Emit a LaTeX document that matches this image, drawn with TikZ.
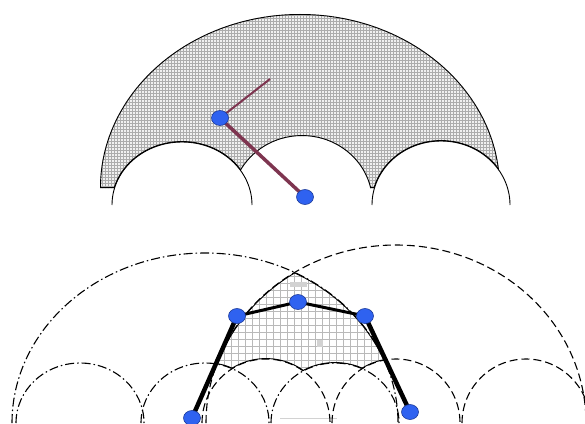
\documentclass[tikz,border=0pt]{standalone}
\usetikzlibrary{shapes.geometric}
\definecolor{jointblue}{HTML}{2F62F0}
\definecolor{jointedge}{HTML}{1E3C9A}
\definecolor{linkred}{HTML}{7E3550}
\pgfdeclarelayer{front}
\pgfsetlayers{main,front}

\begin{document}
\begin{tikzpicture}[
  x=1bp, y=1bp,
  joint/.style={ellipse, draw=jointedge, fill=jointblue, line width=0.6bp,
                minimum width=17bp, minimum height=15bp, inner sep=0pt},
  link/.style={linkred, line width=3.5bp},
  thinlink/.style={linkred, line width=2bp},
  bar/.style={black, line width=4.5bp},
  barthin/.style={black, line width=3bp},
  edge/.style={black, line width=0.9bp},
  rim/.style={black, line width=1.8bp},
  dashdot/.style={black, line width=1.1bp, dash pattern=on 9bp off 3bp on 1.5bp off 3bp},
  dashline/.style={black, line width=1.1bp, dash pattern=on 8bp off 4bp},
  finehatch/.style={gray!65, line width=0.5bp},
  widehatch/.style={gray!55, line width=0.6bp},
  revclip/.style={insert path={(-100,600) -- (700,600) -- (700,-100) -- (-100,-100) -- cycle}}
]
\useasboundingbox (0,0) rectangle (585,423);

% --- upper: reach of the two-link arm ---
\begin{scope}
  \clip (100,235) arc[start angle=180, end angle=0, x radius=200, y radius=174] -- cycle;
  \clip[revclip] (182,218) ellipse[x radius=70, y radius=63];
  \clip[revclip] (302,220) ellipse[x radius=70, y radius=67];
  \clip[revclip] (441,218) ellipse[x radius=69, y radius=64];
  \fill[gray!12] (95,230) rectangle (505,415);
  \draw[finehatch, step=3bp] (95,230) grid (505,415);
  \draw[rim] (100,235) arc[start angle=180, end angle=0, x radius=200, y radius=174] -- cycle;
  \draw[rim] (182,218) ellipse[x radius=70, y radius=63];
  \draw[rim] (302,220) ellipse[x radius=70, y radius=67];
  \draw[rim] (441,218) ellipse[x radius=69, y radius=64];
\end{scope}
\draw[edge] (112,218) arc[start angle=180, end angle=0, x radius=70, y radius=63];
\draw[edge] (372,218) arc[start angle=180, end angle=0, x radius=69, y radius=64];

\begin{pgfonlayer}{front}
  \node[joint] (elbow) at (220,305) {};
  \node[joint] (root)  at (305,226) {};
\end{pgfonlayer}
\coordinate (tip) at (270,344);
\draw[link] (root.center) -- (elbow.center);
\draw[thinlink] (elbow.center) -- (tip);

% --- lower: two bases, common region ---
\begin{scope}
  \clip (205,0) ellipse[x radius=193, y radius=170];
  \clip (396,0) ellipse[x radius=190, y radius=178];
  \clip[revclip] (80,0)  ellipse[x radius=64, y radius=60];
  \clip[revclip] (205,0) ellipse[x radius=64, y radius=60];
  \clip[revclip] (335,0) ellipse[x radius=64, y radius=60];
  \clip[revclip] (266,0) ellipse[x radius=64, y radius=64];
  \clip[revclip] (396,0) ellipse[x radius=64, y radius=64];
  \clip[revclip] (526,0) ellipse[x radius=64, y radius=64];
  \draw[widehatch, step=7bp] (190,0) grid (400,170);
  \draw[rim] (205,0) ellipse[x radius=193, y radius=170];
  \draw[rim] (396,0) ellipse[x radius=190, y radius=178];
  \foreach \c in {205,335}
    \draw[rim] (\c,0) ellipse[x radius=64, y radius=60];
  \foreach \c in {266,396}
    \draw[rim] (\c,0) ellipse[x radius=64, y radius=64];
\end{scope}
\fill[gray!35] (290,136) rectangle (307,141);
\fill[gray!35] (317,76) rectangle (323,83);
\draw[gray!35, line width=1bp] (280,5) -- (337,5);

\draw[dashdot] (12,0) arc[start angle=180, end angle=0, x radius=193, y radius=170];
\foreach \c in {80,205,335}
  \draw[dashdot] (\c,0) ++(-64,0) arc[start angle=180, end angle=0, x radius=64, y radius=60];
\draw[dashline] (206,0) arc[start angle=180, end angle=0, x radius=190, y radius=178];
\foreach \c in {266,396,526}
  \draw[dashline] (\c,0) ++(-64,0) arc[start angle=180, end angle=0, x radius=64, y radius=64];

\begin{pgfonlayer}{front}
  \node[joint] (b1) at (192,5)   {};
  \node[joint] (b2) at (237,107) {};
  \node[joint] (b3) at (298,121) {};
  \node[joint] (b4) at (365,107) {};
  \node[joint] (b5) at (410,11)  {};
\end{pgfonlayer}
\draw[bar] (b1.center) -- (b2.center);
\draw[barthin] (b2.center) -- (b3.center) -- (b4.center);
\draw[bar] (b4.center) -- (b5.center);
\end{tikzpicture}
\end{document}
